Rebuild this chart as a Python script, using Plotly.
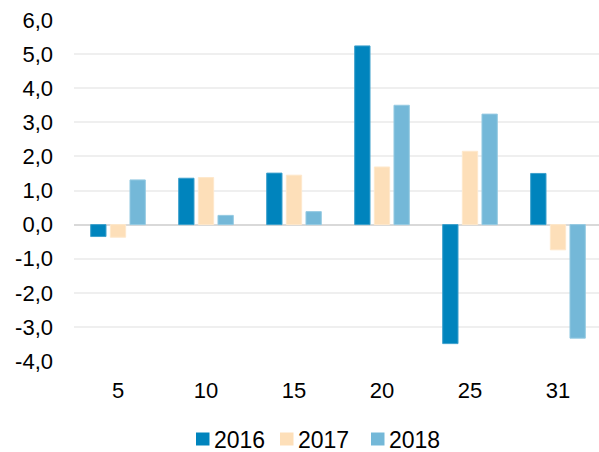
import plotly.graph_objects as go

# Category labels along the x axis
categories = ["5", "10", "15", "20", "25", "31"]

# Series values per year
years = ["2016", "2017", "2018"]
values_2016 = [-0.35, 1.36, 1.51, 5.24, -3.49, 1.50]
values_2017 = [-0.37, 1.38, 1.45, 1.69, 2.15, -0.74]
values_2018 = [1.31, 0.27, 0.38, 3.50, 3.24, -3.33]

# Y tick values and their labels (decimal comma, plain hyphen for negatives)
y_ticks = [-4, -3, -2, -1, 0, 1, 2, 3, 4, 5, 6]
y_tick_labels = [f"{v:.1f}".replace(".", ",") for v in y_ticks]

colors = ["#0084BD", "#FDDFB9", "#74B8D8"]
edge_colors = ["#3DA0CC", "#FEE8CC", "#95CAE2"]
series = [values_2016, values_2017, values_2018]

W, H = 599, 452
M_L, M_R, M_T, M_B = 74, 0, 20, 91

fig = go.Figure()
for name, vals, col, edge in zip(years, series, colors, edge_colors):
    fig.add_trace(go.Bar(
        x=categories, y=vals, name=name,
        marker=dict(color=col, line=dict(color=edge, width=1)),
        showlegend=False,
    ))

# Legend drawn as colored squares with text labels beneath the plot
plot_w = W - M_L - M_R
plot_h = H - M_T - M_B


def px_x(px):
    return (px - M_L) / plot_w


def px_y(py):
    return (H - M_B - py) / plot_h


legend_x = [196, 280, 371]
shapes = []
annotations = []
for lx, name, col in zip(legend_x, years, colors):
    shapes.append(dict(
        type="rect", xref="paper", yref="paper",
        x0=px_x(lx), x1=px_x(lx + 13.5), y0=px_y(445.5), y1=px_y(432.5),
        fillcolor=col, line=dict(width=0),
    ))
    annotations.append(dict(
        text=name, xref="paper", yref="paper",
        x=px_x(lx + 15.5), y=px_y(439.5), xanchor="left", yanchor="middle",
        showarrow=False, font=dict(family="Liberation Sans, Arial", size=23, color="#000000"),
    ))

fig.update_layout(
    width=W, height=H,
    margin=dict(l=M_L, r=M_R, t=M_T, b=M_B),
    paper_bgcolor="white", plot_bgcolor="white",
    barmode="group", bargap=0.33, bargroupgap=0.22,
    font=dict(family="Liberation Sans, Arial", size=22, color="#000000"),
    shapes=shapes, annotations=annotations,
    xaxis=dict(
        type="category", range=[-0.5, 5.466],
        showgrid=False, showline=False, zeroline=False,
        ticks="", ticklabelstandoff=14,
        tickfont=dict(size=22),
    ),
    yaxis=dict(
        range=[-4, 6], tickvals=y_ticks, ticktext=y_tick_labels,
        showgrid=True, gridcolor="#EFEFEF", gridwidth=1.5,
        zeroline=True, zerolinecolor="#D9D9D9", zerolinewidth=2,
        showline=False, ticks="", ticklabelstandoff=20,
        tickfont=dict(size=22),
    ),
)

fig.write_html("out.html")
